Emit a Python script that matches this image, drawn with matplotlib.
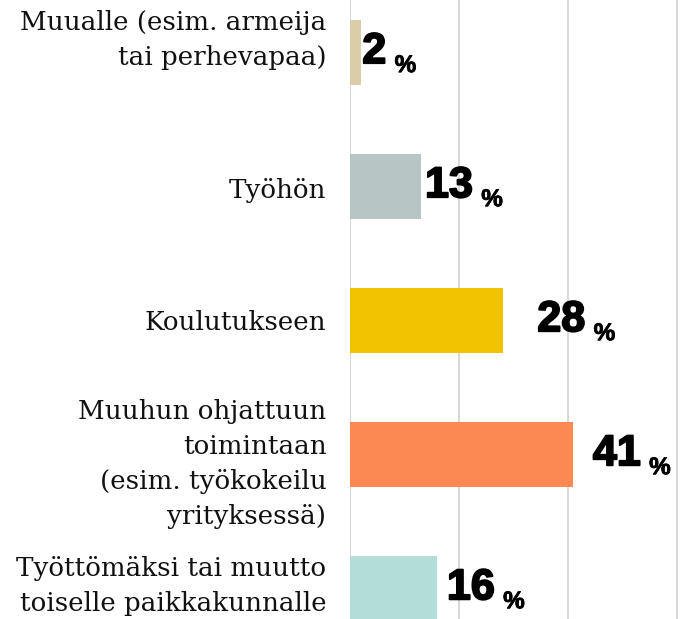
import matplotlib
matplotlib.use("Agg")
import matplotlib.pyplot as plt
import matplotlib.patheffects as pe

categories = [
    "Muualle (esim. armeija\ntai perhevapaa)",
    "Työhön",
    "Koulutukseen",
    "Muuhun ohjattuun\ntoimintaan\n(esim. työkokeilu\nyrityksessä)",
    "Työttömäksi tai muutto\ntoiselle paikkakunnalle",
]
values = [2, 13, 28, 41, 16]
colors = ["#DCCDA9", "#B8C5C5", "#F2C300", "#FC8853", "#B3DDD8"]
label_offsets = [1, 3, 25, 14, 7]      # points right of bar end
cat_dy = [8.5, -3.5, -2, -7, 1.5]     # vertical nudge of category labels (points)

fig = plt.figure(figsize=(6.92, 6.19), dpi=100)
ax = fig.add_axes([350 / 692, 0, 342 / 692, 1])

y = list(range(len(values)))
ax.barh(y, values, height=0.485, color=colors, zorder=2)
ax.set_ylim(4.23, -0.388)
ax.set_xlim(0, 62.75)

ax.set_xticks([0, 20, 40, 60])
ax.grid(axis="x", color="#D9D9D9", linewidth=1.5, zorder=0)
ax.tick_params(axis="both", length=0, labelbottom=False, labelleft=False)
ax.set_yticks([])
for s in ax.spines.values():
    s.set_visible(False)

for i, cat in enumerate(categories):
    ax.annotate(cat, xy=(0, i), xycoords=("axes fraction", "data"),
                xytext=(-17, cat_dy[i]), textcoords="offset points",
                ha="right", va="center", multialignment="right",
                fontsize=18.8, family="DejaVu Serif", linespacing=1.5,
                color="#111111", annotation_clip=False)

stroke = [pe.withStroke(linewidth=1.4, foreground="black")]
for i, v in enumerate(values):
    num = ax.annotate(str(v), xy=(v, i), xytext=(label_offsets[i], -8),
                      textcoords="offset points", ha="left", va="baseline",
                      fontsize=31, fontweight="bold", family="Liberation Sans",
                      color="black", zorder=3, path_effects=stroke)
    ax.annotate("%", xy=(1, 0), xycoords=num, xytext=(6, 0),
                textcoords="offset points", ha="left", va="baseline",
                fontsize=17.5, fontweight="bold", family="Liberation Sans",
                color="black", path_effects=[pe.withStroke(linewidth=0.6, foreground="black")])

fig.savefig("out.png", dpi=100)
